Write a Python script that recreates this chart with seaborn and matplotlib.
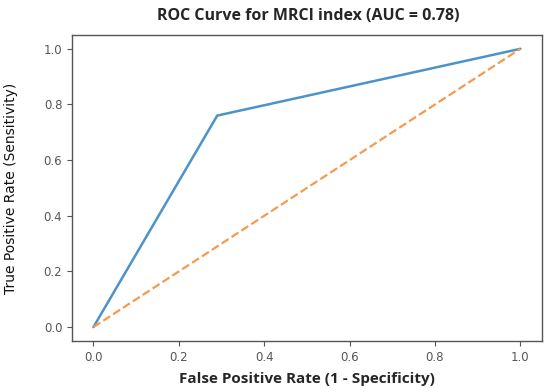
import matplotlib
matplotlib.use('Agg')
import matplotlib.pyplot as plt
import seaborn as sns
import pandas as pd

# ROC points
fpr = [0.0, 0.29, 1.0]
tpr = [0.0, 0.76, 1.0]
chance = [0.0, 1.0]
auc_value = 0.78

sns.set_style('white')
plt.rcParams['font.family'] = ['DejaVu Sans']

roc = pd.DataFrame({'fpr': fpr, 'tpr': tpr})
diag = pd.DataFrame({'x': chance, 'y': chance})

fig = plt.figure(figsize=(5.5, 3.92), dpi=100)
ax = fig.add_axes([0.131, 0.13, 0.854, 0.781])

sns.lineplot(data=roc, x='fpr', y='tpr', ax=ax, color='#4c93c9', linewidth=1.8)
sns.lineplot(data=diag, x='x', y='y', ax=ax, color='#f59a4e', linewidth=1.6,
             linestyle='--')

ax.set_xlim(-0.05, 1.05)
ax.set_ylim(-0.05, 1.05)
ax.set_xticks([0.0, 0.2, 0.4, 0.6, 0.8, 1.0])
ax.set_yticks([0.0, 0.2, 0.4, 0.6, 0.8, 1.0])
ax.set_xticklabels(['0.0', '0.2', '0.4', '0.6', '0.8', '1.0'])
ax.set_yticklabels(['0.0', '0.2', '0.4', '0.6', '0.8', '1.0'])
ax.tick_params(axis='both', which='both', length=3.5, width=0.8,
               colors='#555555', labelsize=8.5, direction='out',
               bottom=True, left=True)
for s in ax.spines.values():
    s.set_color('#555555')
    s.set_linewidth(1.0)

ax.set_xlabel('False Positive Rate (1 - Specificity)', family=['Open Sans', 'DejaVu Sans'],
              fontsize=11, fontweight='bold', labelpad=6)
ax.set_ylabel('True Positive Rate (Sensitivity)', fontsize=10, color='#111111')
ax.yaxis.set_label_coords(-0.115, 0.5)
fig.suptitle('ROC Curve for MRCI index (AUC = %.2f)' % auc_value,
             family=['Open Sans', 'DejaVu Sans'], fontsize=11.5, fontweight='bold',
             x=0.56, y=0.98)

fig.savefig('out.png', dpi=100)
